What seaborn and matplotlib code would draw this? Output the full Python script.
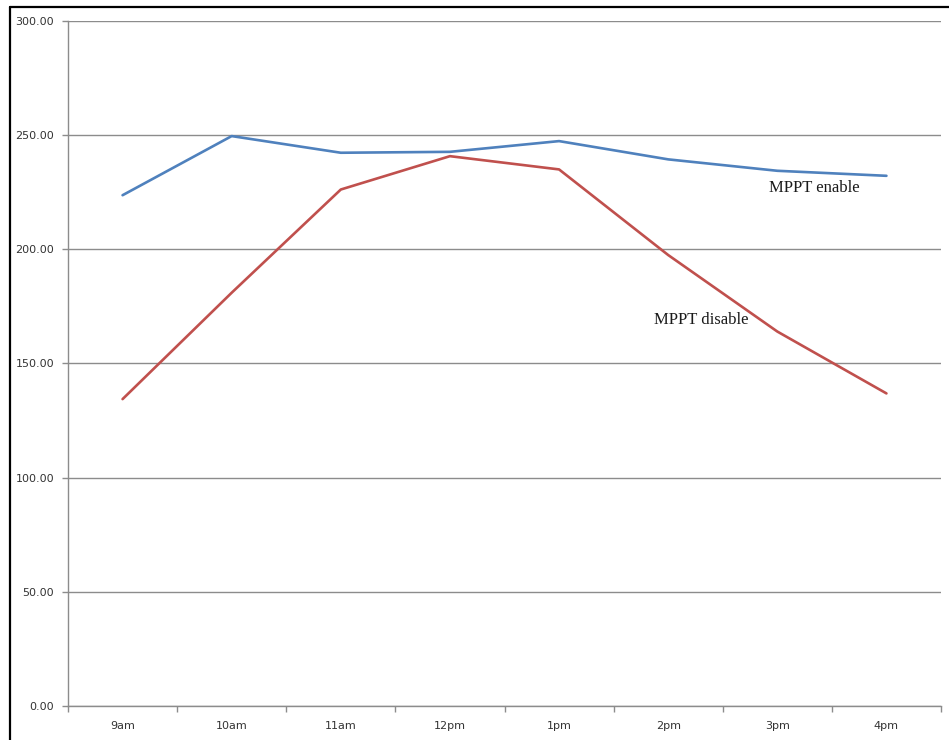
import matplotlib
matplotlib.use("Agg")
import matplotlib.pyplot as plt
from matplotlib.lines import Line2D
from matplotlib.ticker import FixedLocator, FormatStrFormatter
import seaborn as sns
import pandas as pd

hours = ["9am", "10am", "11am", "12pm", "1pm", "2pm", "3pm", "4pm"]
mppt_enable = [223.7, 249.6, 242.3, 242.7, 247.4, 239.4, 234.4, 232.2]
mppt_disable = [134.4, 181.0, 226.2, 240.8, 235.0, 197.5, 164.0, 136.9]
y_ticks = [0, 50, 100, 150, 200, 250, 300]

sns.set_theme(style="white")
plt.rcParams["font.family"] = ["DejaVu Sans"]

df = pd.DataFrame({
    "hour": hours * 2,
    "power": mppt_enable + mppt_disable,
    "mode": ["MPPT enable"] * len(hours) + ["MPPT disable"] * len(hours),
})

fig = plt.figure(figsize=(9.49, 7.40), dpi=100)
ax = fig.add_axes([68 / 949, 1 - 706 / 740, (941 - 68) / 949, (706 - 21) / 740])

sns.lineplot(data=df, x="hour", y="power", hue="mode", sort=False,
             palette={"MPPT enable": "#4F81BD", "MPPT disable": "#C0504D"},
             linewidth=1.9, legend=False, ax=ax)

ax.set_xlim(-0.5, len(hours) - 0.5)
ax.set_ylim(0, 300)
ax.set_xlabel("")
ax.set_ylabel("")

# horizontal gridlines
ax.yaxis.set_major_locator(FixedLocator(y_ticks))
ax.yaxis.set_major_formatter(FormatStrFormatter("%.2f"))
ax.grid(axis="y", color="#8C8C8C", linewidth=1.0)
ax.grid(axis="x", visible=False)
ax.set_axisbelow(True)

for side in ["top", "right"]:
    ax.spines[side].set_visible(False)
for side in ["left", "bottom"]:
    ax.spines[side].set_color("#8C8C8C")
    ax.spines[side].set_linewidth(1.0)

# category labels centered, tick marks on category boundaries
ax.set_xticks(range(len(hours)))
ax.set_xticklabels(hours)
ax.set_xticks([i - 0.5 for i in range(len(hours) + 1)], minor=True)
ax.tick_params(axis="x", which="major", length=0, pad=11, labelsize=8, labelcolor="#333333")
ax.tick_params(axis="x", which="minor", length=4, width=1, color="#8C8C8C", direction="out", bottom=True)
ax.tick_params(axis="y", which="major", length=4, width=1, color="#8C8C8C", direction="out",
               left=True, pad=6, labelsize=8, labelcolor="#333333")

ax.text(6.34, 227.0, "MPPT enable", family="Liberation Serif", fontsize=12,
        ha="center", va="center", color="#1a1a1a")
ax.text(5.30, 169.0, "MPPT disable", family="Liberation Serif", fontsize=12,
        ha="center", va="center", color="#1a1a1a")

# outer frame lines along top and left
fig.add_artist(Line2D([9.5 / 949, 9.5 / 949], [0, 1 - 6.5 / 740], color="black", linewidth=1.6,
                      transform=fig.transFigure))
fig.add_artist(Line2D([9.5 / 949, 1], [1 - 6.5 / 740, 1 - 6.5 / 740], color="black", linewidth=1.6,
                      transform=fig.transFigure))

fig.savefig("out.png", dpi=100, facecolor="white")
